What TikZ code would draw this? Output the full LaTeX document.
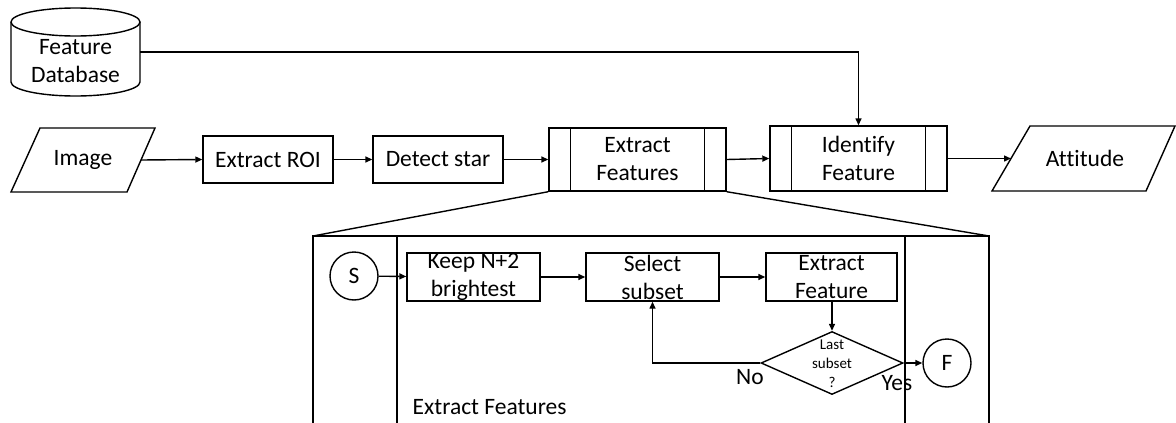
\documentclass[tikz,border=0pt]{standalone}
\usepackage{fontspec}
\setmainfont{Carlito}[Ligatures=NoCommon]
\usetikzlibrary{arrows.meta,shapes.geometric}
\begin{document}
\begin{tikzpicture}[x=1pt,y=-1pt,line width=1.4pt,
  >={Triangle[length=7pt,width=6pt]},
  txt/.style={font=\fontsize{23.5}{28}\selectfont,align=center,inner sep=0pt},
  box/.style={txt,draw,rectangle,minimum width=130pt,minimum height=47pt},
  subbox/.style={txt,draw,rectangle,minimum width=133pt,minimum height=48pt},
  pbox/.style={txt,draw,rectangle,minimum width=177pt,minimum height=64pt},
  term/.style={txt,draw,circle,minimum size=48pt},
  small/.style={font=\fontsize{15}{19}\selectfont,align=center,inner sep=0pt}]
\useasboundingbox (0,0) rectangle (1176,423);

% database cylinder
\node[minimum width=129pt,minimum height=88pt,inner sep=0pt] (db) at (75.5,52) {};
\draw (11,22) arc[start angle=180,end angle=0,x radius=64.5pt,y radius=-14pt]
      arc[start angle=0,end angle=-180,x radius=64.5pt,y radius=-14pt];
\draw (11,22) -- (11,82) arc[start angle=180,end angle=360,x radius=64.5pt,y radius=14pt] -- (140,22);
\node[txt] (dbt) at (75.5,61) {Feature\\Database};
\coordinate (dbE) at (140,52);

% Image parallelogram
\draw (40,128) -- (155,128) -- (127,192) -- (11,192) -- cycle;
\node[txt] (img) at (83,160) {Image};
\coordinate (imgE) at (141,160);

% main process
\node[box] (roi) at (268,159.5) {Extract ROI};
\node[box] (star) at (438,159.5) {Detect star};
\node[pbox,minimum height=63pt] (ef) at (637.5,159.5) {Extract\\Features};
\draw ([xshift=22pt]ef.north west) -- ([xshift=22pt]ef.south west);
\draw ([xshift=-22pt]ef.north east) -- ([xshift=-22pt]ef.south east);
\node[pbox,minimum height=65pt] (idf) at (858.5,158.5) {Identify\\Feature};
\draw ([xshift=22pt]idf.north west) -- ([xshift=22pt]idf.south west);
\draw ([xshift=-22pt]idf.north east) -- ([xshift=-22pt]idf.south east);

% Attitude parallelogram
\draw (1030,126) -- (1175,126) -- (1146,191) -- (992,191) -- cycle;
\node[txt] (att) at (1085,158.5) {Attitude};
\coordinate (attW) at (1011,158.5);

\draw[->] (imgE) -- (roi.west);
\draw[->] (roi.east) -- (star.west);
\draw[->] (star.east) -- (ef.west);
\draw[->] (ef.east) -- (idf.west);
\draw[->] (idf.east) -- (attW);
\draw[->] (dbE) -| (idf.north);

% expansion
\coordinate (bl) at (313,236);
\coordinate (br) at (989,236);
\draw (ef.south west) -- (bl);
\draw (ef.south east) -- (br);
\draw (313,424) -- (bl) -- (br) -- (989,424);
\draw (397,236) -- (397,424);
\draw (905,236) -- (905,424);

\node[term] (S) at (354,276) {S};
\node[subbox] (keep) at (473.5,277) {Keep N+2\\brightest};
\node[subbox] (sel) at (652.5,277) {Select\\subset};
\node[subbox,minimum width=131pt] (exf) at (831.5,277) {Extract\\Feature};
\node[draw,diamond,aspect=2.25,minimum width=142pt,minimum height=63pt,inner sep=0pt] (dia) at (832,363) {};
\node[small] (diat) at (832,364) {Last\\subset\\?};
\node[term] (F) at (947,363) {F};
\coordinate (loop) at (652.5,363);

\draw[->] (S) -- (keep);
\draw[->] (keep) -- (sel);
\draw[->] (sel) -- (exf);
\draw[->] (exf.south -| dia.north) -- (dia.north);
\draw[->] (dia.west) -- (loop) -- (sel.south);
\draw[->] (dia.east) -- (F.west);

\node[txt] (no) at (750,377) {No};
\node[txt] (yes) at (897,383) {Yes};
\node[txt,anchor=west] (eft) at (412,407) {Extract Features};
\end{tikzpicture}
\end{document}
